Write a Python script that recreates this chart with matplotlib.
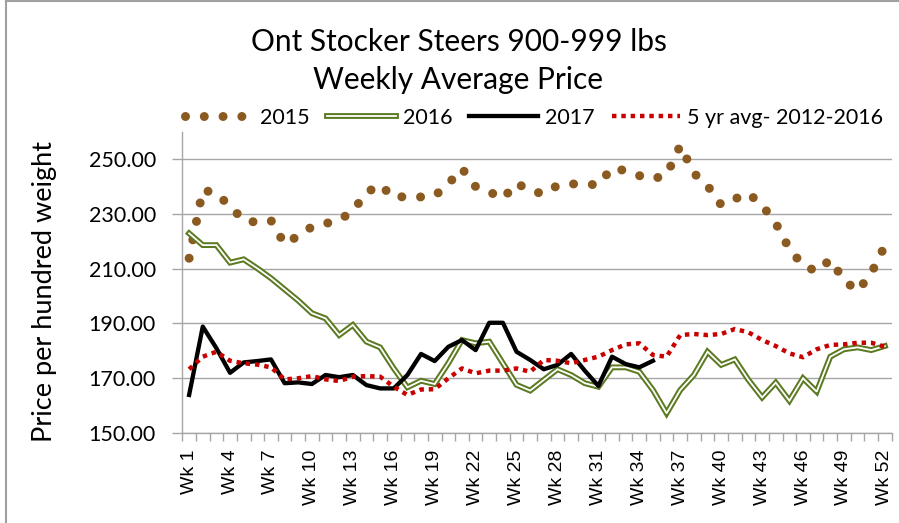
import numpy as np
import matplotlib
matplotlib.use("Agg")
import matplotlib.pyplot as plt
from matplotlib.lines import Line2D

weeks = np.arange(1, 53)
week_labels = [f"Wk {w}" for w in weeks]

price_2015 = [213.8, 238.8, 237.5, 232.8, 227.7, 226.9, 227.6, 219.0, 222.0, 225.3,
              226.5, 227.7, 231.1, 237.8, 240.7, 235.9, 236.5, 236.2, 236.6, 241.0,
              246.6, 240.0, 238.1, 235.6, 241.3, 238.4, 237.4, 240.4, 241.0, 240.8,
              240.7, 246.8, 245.8, 244.0, 242.8, 244.3, 255.0, 244.9, 240.3, 233.3,
              235.5, 237.5, 233.2, 226.6, 217.2, 211.2, 209.0, 213.3, 205.8, 201.8,
              208.3, 218.4]
price_2016 = [222.9, 218.6, 218.6, 212.2, 213.4, 210.1, 206.5, 202.4, 198.3, 193.7,
              191.8, 185.7, 189.4, 183.3, 181.2, 173.5, 166.6, 169.0, 167.8, 175.4,
              183.9, 182.7, 183.3, 175.4, 167.5, 165.4, 169.3, 173.2, 171.1, 168.1,
              166.8, 173.9, 173.9, 172.3, 165.6, 157.1, 165.6, 171.1, 179.6, 174.8,
              176.8, 169.3, 162.9, 168.3, 161.7, 169.9, 165.0, 177.8, 180.5, 181.2,
              180.2, 181.7]
price_2017 = [163.8, 188.8, 180.9, 171.9, 175.7, 176.2, 176.8, 168.1, 168.4, 167.8,
              171.1, 170.3, 171.1, 167.4, 166.2, 166.2, 171.1, 178.8, 176.2, 181.4,
              183.9, 180.2, 190.2, 190.2, 179.6, 176.6, 173.2, 174.8, 178.8, 172.7,
              167.1, 177.8, 175.1, 173.9, 176.3]
avg_5yr = [173.2, 177.8, 179.6, 176.3, 175.4, 174.9, 173.9, 169.5, 169.9, 170.7,
           169.5, 168.9, 170.5, 170.7, 170.5, 166.8, 163.8, 165.8, 165.9, 169.9,
           173.5, 171.7, 172.7, 172.7, 173.5, 172.3, 176.6, 176.3, 175.4, 176.6,
           177.8, 180.2, 182.3, 182.7, 178.4, 177.8, 185.7, 186.1, 185.7, 186.1,
           187.9, 186.7, 183.9, 181.7, 179.0, 177.6, 180.5, 182.1, 182.3, 182.9,
           182.9, 181.4]
y_ticks = [150, 170, 190, 210, 230, 250]

BROWN = "#8a5a20"
GREEN = "#5c7a22"
RED = "#c80000"
GRID = "#a6a6a6"
FONT = "Lato"

fig = plt.figure(figsize=(8.99, 5.23), dpi=100)
ax = fig.add_axes([182.3 / 899, 1 - 432.7 / 523, (891.7 - 182.3) / 899, (432.7 - 131.9) / 523])

l2015, = ax.plot(weeks, price_2015, color=BROWN, lw=6.5, linestyle=(0, (0.001, 2.08)),
                 dash_capstyle="round", zorder=3)
g_outer, = ax.plot(weeks, price_2016, color=GREEN, lw=4.2, solid_joinstyle="miter", zorder=4)
g_inner, = ax.plot(weeks, price_2016, color="white", lw=1.3, solid_joinstyle="miter", zorder=5)
l2017, = ax.plot(weeks[:len(price_2017)], price_2017, color="black", lw=3.1, zorder=6)
lavg, = ax.plot(weeks, avg_5yr, color=RED, lw=3.2, linestyle=(0, (1, 1.1)),
                dash_capstyle="butt", zorder=7)

ax.set_xlim(0.5, 52.5)
ax.set_ylim(150, 260)
ax.set_yticks(y_ticks)
ax.set_yticklabels([f"{v:.2f}" for v in y_ticks], fontfamily=FONT, fontsize=15.5)
ax.set_xticks(weeks[::3])
ax.set_xticklabels(week_labels[::3], rotation=90, fontfamily="Liberation Sans", fontsize=14,
                   va="top", ha="center")
ax.set_xticks(np.arange(0.5, 53.0, 1.0), minor=True)
ax.tick_params(axis="x", which="major", length=0, pad=12)
ax.tick_params(axis="x", which="minor", length=6, color=GRID, width=1)
ax.tick_params(axis="y", length=7, color=GRID, width=1, pad=12)
ax.grid(axis="y", color=GRID, lw=1)
ax.set_axisbelow(True)
for side in ["top", "right"]:
    ax.spines[side].set_visible(False)
for side in ["left", "bottom"]:
    ax.spines[side].set_color(GRID)
    ax.spines[side].set_linewidth(1)

ax.set_ylabel("Price per hundred weight", fontfamily=FONT, fontsize=19.5)
ax.yaxis.set_label_coords(-0.177, 0.47)

fig.text(0.51, 1 - 42 / 523, "Ont Stocker Steers 900-999 lbs", ha="center", va="center",
         fontfamily=FONT, fontsize=21.5)
fig.text(0.51, 1 - 80 / 523, "Weekly Average Price", ha="center", va="center",
         fontfamily=FONT, fontsize=21.5)

leg = fig.legend([l2015, (g_outer, g_inner), l2017, lavg],
                 ["2015", "2016", "2017", "5 yr avg- 2012-2016"],
                 loc="center", bbox_to_anchor=(534 / 899, 1 - 118 / 523), ncol=4,
                 frameon=False, prop={"family": FONT, "size": 15.5},
                 handlelength=3.2, handletextpad=0.3, columnspacing=0.8, borderpad=0)

fig.add_artist(Line2D([5.5 / 899, 5.5 / 899], [0, 1], color="#a0a0a0", lw=1.5,
                      transform=fig.transFigure))
fig.add_artist(Line2D([5.5 / 899, 1], [1 - 1 / 523, 1 - 1 / 523], color="#a0a0a0", lw=1.5,
                      transform=fig.transFigure))

fig.savefig("out.png", dpi=100)
